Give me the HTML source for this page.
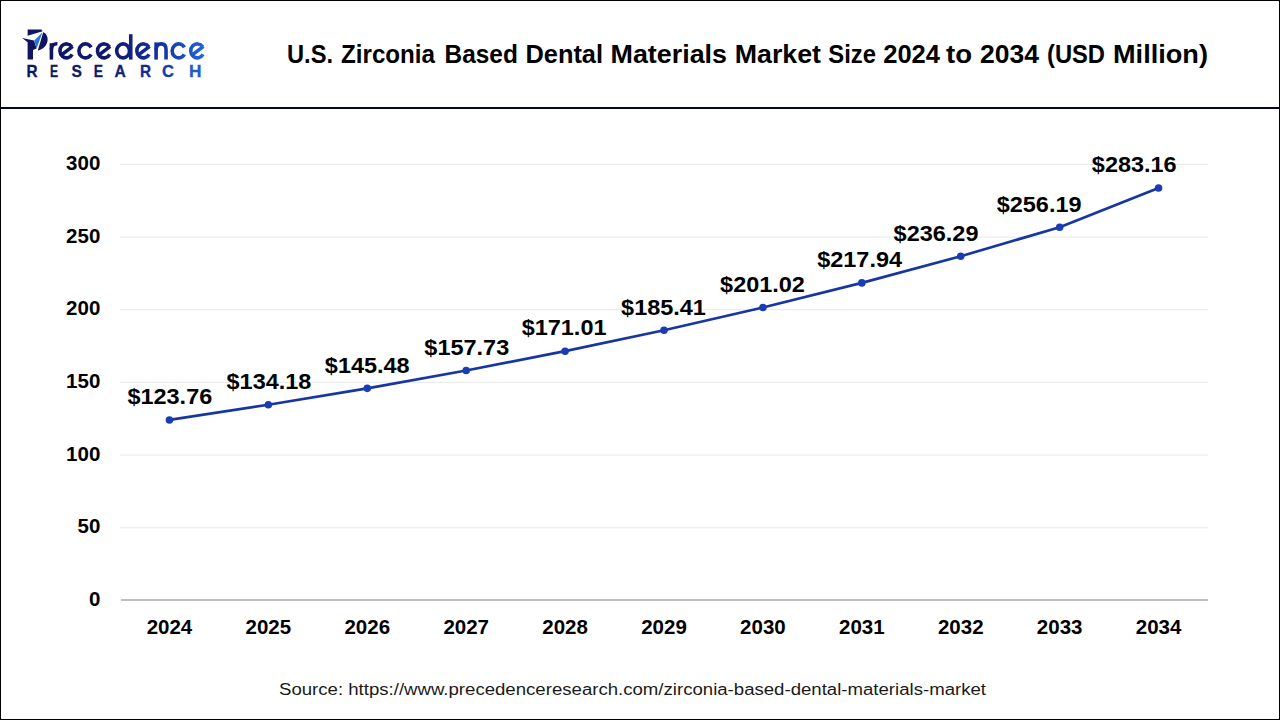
<!DOCTYPE html>
<html><head><meta charset="utf-8"><style>
html,body{margin:0;padding:0;background:#fff;}
body{width:1280px;height:720px;overflow:hidden;position:relative;font-family:"Liberation Sans",sans-serif;}
svg{position:absolute;left:0;top:0;}
.ax{font-family:"Liberation Sans",sans-serif;font-weight:bold;font-size:20.5px;fill:#000;}
.dl{font-family:"Liberation Sans",sans-serif;font-weight:bold;font-size:22.8px;fill:#000;}
.ttl{font-family:"Liberation Sans",sans-serif;font-weight:bold;font-size:25px;fill:#000;}
.rs{font-family:"Liberation Sans",sans-serif;font-size:16.6px;font-weight:bold;}
.src{font-family:"Liberation Sans",sans-serif;font-size:16px;fill:#1a1a1a;}
</style></head><body>
<svg width="1280" height="720" viewBox="0 0 1280 720">
<rect x="0.5" y="0.5" width="1279" height="719" fill="#fff" stroke="#000" stroke-width="1"/>
<rect x="0" y="107" width="1280" height="2" fill="#05052a"/>
<g id="logo">
<defs>
<linearGradient id="lg" x1="20" y1="0" x2="206" y2="0" gradientUnits="userSpaceOnUse">
<stop offset="0" stop-color="#0f1560"/><stop offset="0.5" stop-color="#0f1a6e"/><stop offset="0.75" stop-color="#1232a0"/><stop offset="1" stop-color="#2466dc"/>
</linearGradient>
</defs>
<g fill="#0f1560">
<path d="M27.6,29.6 L41.4,29.6 L42.6,31.2 L27.6,35.8 Z"/>
<path d="M22.2,38 L34,40.6 L36.6,48.6 L33,50 L33,59.4 L27.6,59.4 L27.6,42.2 Z"/>
<path d="M43.2,32.2 C49.8,34.5 49.8,47.5 37.8,50.6 Z"/>
</g>
<path d="M34.2,40.6 L42.4,32.6 L36.6,48.4 Z" fill="#2a74dc"/>
<g fill="none" stroke="url(#lg)" stroke-width="3.6">
<path d="M51.4,59.6 V43.2"/>
<path d="M51.4,49.5 C51.4,45 54,43.6 57.4,43.8"/>
<path d="M71.80,46.79 A6.55,7.0 0 1 0 72.17,54.40"/><path d="M61.20,55.20 L72.70,46.30"/>
<path d="M91.12,47.40 A6.55,7.0 0 1 0 91.12,54.40"/>
<path d="M109.35,46.79 A6.55,7.0 0 1 0 109.72,54.40"/><path d="M98.75,55.20 L110.25,46.30"/>
<ellipse cx="123.1" cy="50.9" rx="6.4" ry="7.0"/>
<path d="M130.75,34.2 V59.6"/>
<path d="M148.70,46.79 A6.55,7.0 0 1 0 149.07,54.40"/><path d="M138.10,55.20 L149.60,46.30"/>
<path d="M156.1,59.6 V42.4"/>
<path d="M156.1,50 C156.1,45.5 158.4,43.9 161.2,43.9 C164.3,43.9 166.05,45.8 166.05,49.5 V59.6"/>
<path d="M184.37,47.40 A6.55,7.0 0 1 0 184.37,54.40"/>
<path d="M202.60,46.79 A6.55,7.0 0 1 0 202.97,54.40"/><path d="M192.00,55.20 L203.50,46.30"/>
</g>
<text transform="translate(26.40,77.2) scale(0.922,1)" class="rs" fill="#0f1662" stroke="#0f1662" stroke-width="0.3">R</text><text transform="translate(50.00,77.2) scale(0.732,1)" class="rs" fill="#0f1765" stroke="#0f1765" stroke-width="0.3">E</text><text transform="translate(71.40,77.2) scale(0.941,1)" class="rs" fill="#0f1869" stroke="#0f1869" stroke-width="0.3">S</text><text transform="translate(93.80,77.2) scale(0.837,1)" class="rs" fill="#0f196c" stroke="#0f196c" stroke-width="0.3">E</text><text transform="translate(114.60,77.2) scale(0.937,1)" class="rs" fill="#0f1e76" stroke="#0f1e76" stroke-width="0.3">A</text><text transform="translate(140.00,77.2) scale(0.922,1)" class="rs" fill="#112b91" stroke="#112b91" stroke-width="0.3">R</text><text transform="translate(162.00,77.2) scale(1.000,1)" class="rs" fill="#153baa" stroke="#153baa" stroke-width="0.3">C</text><text transform="translate(189.00,77.2) scale(1.041,1)" class="rs" fill="#205ace" stroke="#205ace" stroke-width="0.3">H</text>
</g>
<text x="287.00" y="62.6" class="ttl" textLength="46.00" lengthAdjust="spacingAndGlyphs">U.S.</text>
<text x="341.00" y="62.6" class="ttl" textLength="94.00" lengthAdjust="spacingAndGlyphs">Zirconia</text>
<text x="444.60" y="62.6" class="ttl" textLength="73.20" lengthAdjust="spacingAndGlyphs">Based</text>
<text x="525.50" y="62.6" class="ttl" textLength="77.50" lengthAdjust="spacingAndGlyphs">Dental</text>
<text x="610.50" y="62.6" class="ttl" textLength="116.50" lengthAdjust="spacingAndGlyphs">Materials</text>
<text x="734.75" y="62.6" class="ttl" textLength="86.25" lengthAdjust="spacingAndGlyphs">Market</text>
<text x="828.25" y="62.6" class="ttl" textLength="47.75" lengthAdjust="spacingAndGlyphs">Size</text>
<text x="883.25" y="62.6" class="ttl" textLength="56.75" lengthAdjust="spacingAndGlyphs">2024</text>
<text x="946.00" y="62.6" class="ttl" textLength="26.00" lengthAdjust="spacingAndGlyphs">to</text>
<text x="980.00" y="62.6" class="ttl" textLength="58.90" lengthAdjust="spacingAndGlyphs">2034</text>
<text x="1047.00" y="62.6" class="ttl" textLength="58.00" lengthAdjust="spacingAndGlyphs">(USD</text>
<text x="1113.00" y="62.6" class="ttl" textLength="95.00" lengthAdjust="spacingAndGlyphs">Million)</text>
<rect x="120" y="527.13" width="1088" height="1.2" fill="#ececec"/>
<rect x="120" y="454.47" width="1088" height="1.2" fill="#ececec"/>
<rect x="120" y="381.80" width="1088" height="1.2" fill="#ececec"/>
<rect x="120" y="309.13" width="1088" height="1.2" fill="#ececec"/>
<rect x="120" y="236.47" width="1088" height="1.2" fill="#ececec"/>
<rect x="120" y="163.80" width="1088" height="1.2" fill="#ececec"/>
<rect x="121" y="599" width="1087" height="2" fill="#bfbfbf"/>
<text x="100.3" y="605.90" text-anchor="end" class="ax">0</text>
<text x="100.3" y="533.23" text-anchor="end" class="ax">50</text>
<text x="100.3" y="460.57" text-anchor="end" class="ax">100</text>
<text x="100.3" y="387.90" text-anchor="end" class="ax">150</text>
<text x="100.3" y="315.23" text-anchor="end" class="ax">200</text>
<text x="100.3" y="242.57" text-anchor="end" class="ax">250</text>
<text x="100.3" y="169.90" text-anchor="end" class="ax">300</text>
<text x="169.45" y="634" text-anchor="middle" class="ax">2024</text>
<text x="268.36" y="634" text-anchor="middle" class="ax">2025</text>
<text x="367.27" y="634" text-anchor="middle" class="ax">2026</text>
<text x="466.18" y="634" text-anchor="middle" class="ax">2027</text>
<text x="565.09" y="634" text-anchor="middle" class="ax">2028</text>
<text x="664.00" y="634" text-anchor="middle" class="ax">2029</text>
<text x="762.91" y="634" text-anchor="middle" class="ax">2030</text>
<text x="861.82" y="634" text-anchor="middle" class="ax">2031</text>
<text x="960.73" y="634" text-anchor="middle" class="ax">2032</text>
<text x="1059.64" y="634" text-anchor="middle" class="ax">2033</text>
<text x="1158.55" y="634" text-anchor="middle" class="ax">2034</text>
<polyline points="169.45,419.93 268.36,404.77 367.27,388.33 466.18,370.50 565.09,351.18 664.00,330.23 762.91,307.52 861.82,282.90 960.73,256.20 1059.64,227.24 1158.55,188.00" fill="none" stroke="#1836a2" stroke-width="2.7" stroke-linejoin="round"/>
<circle cx="169.45" cy="419.93" r="3.8" fill="#1b3db4"/>
<circle cx="268.36" cy="404.77" r="3.8" fill="#1b3db4"/>
<circle cx="367.27" cy="388.33" r="3.8" fill="#1b3db4"/>
<circle cx="466.18" cy="370.50" r="3.8" fill="#1b3db4"/>
<circle cx="565.09" cy="351.18" r="3.8" fill="#1b3db4"/>
<circle cx="664.00" cy="330.23" r="3.8" fill="#1b3db4"/>
<circle cx="762.91" cy="307.52" r="3.8" fill="#1b3db4"/>
<circle cx="861.82" cy="282.90" r="3.8" fill="#1b3db4"/>
<circle cx="960.73" cy="256.20" r="3.8" fill="#1b3db4"/>
<circle cx="1059.64" cy="227.24" r="3.8" fill="#1b3db4"/>
<circle cx="1158.55" cy="188.00" r="3.8" fill="#1b3db4"/>
<text x="169.85" y="404.23" text-anchor="middle" class="dl" textLength="84.8" lengthAdjust="spacingAndGlyphs">$123.76</text>
<text x="268.96" y="389.07" text-anchor="middle" class="dl" textLength="84.8" lengthAdjust="spacingAndGlyphs">$134.18</text>
<text x="367.27" y="372.63" text-anchor="middle" class="dl" textLength="84.8" lengthAdjust="spacingAndGlyphs">$145.48</text>
<text x="466.78" y="354.80" text-anchor="middle" class="dl" textLength="84.8" lengthAdjust="spacingAndGlyphs">$157.73</text>
<text x="564.09" y="335.48" text-anchor="middle" class="dl" textLength="84.8" lengthAdjust="spacingAndGlyphs">$171.01</text>
<text x="663.50" y="314.53" text-anchor="middle" class="dl" textLength="84.8" lengthAdjust="spacingAndGlyphs">$185.41</text>
<text x="762.51" y="291.82" text-anchor="middle" class="dl" textLength="84.8" lengthAdjust="spacingAndGlyphs">$201.02</text>
<text x="859.62" y="267.20" text-anchor="middle" class="dl" textLength="84.8" lengthAdjust="spacingAndGlyphs">$217.94</text>
<text x="936.03" y="240.50" text-anchor="middle" class="dl" textLength="84.8" lengthAdjust="spacingAndGlyphs">$236.29</text>
<text x="1039.14" y="211.54" text-anchor="middle" class="dl" textLength="84.8" lengthAdjust="spacingAndGlyphs">$256.19</text>
<text x="1134.25" y="172.30" text-anchor="middle" class="dl" textLength="84.8" lengthAdjust="spacingAndGlyphs">$283.16</text>
<text x="279" y="695" class="src" textLength="707" lengthAdjust="spacingAndGlyphs">Source: https://www.precedenceresearch.com/zirconia-based-dental-materials-market</text>
</svg>
</body></html>
